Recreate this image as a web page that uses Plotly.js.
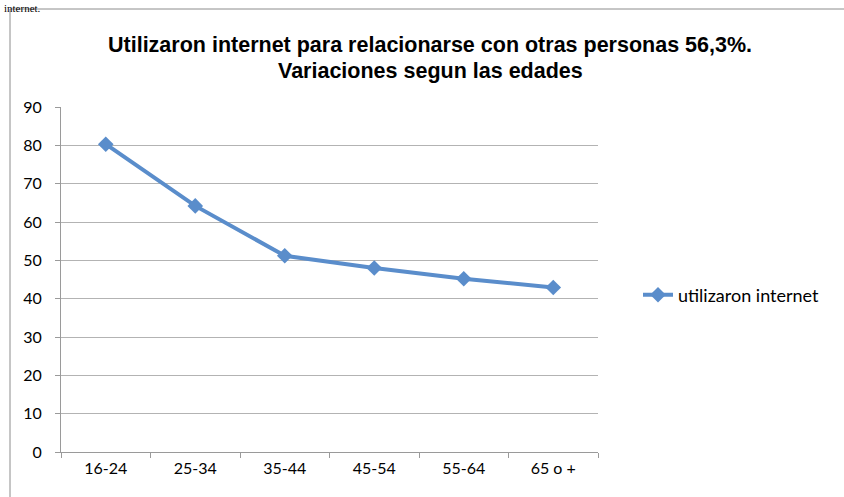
<!DOCTYPE html>
<html><head><meta charset="utf-8">
<script src="https://cdn.plot.ly/plotly-3.0.1.min.js"></script>
<style>html,body{margin:0;padding:0;background:#fff}#chart{width:844px;height:497px}</style>
</head><body><div id="chart"></div>
<script>
const categories = ['16-24','25-34','35-44','45-54','55-64','65 o +'];
const values = [80.3, 64.2, 51.2, 48.0, 45.2, 42.9];
const seriesName = 'utilizaron internet';
const yTicks = [0,10,20,30,40,50,60,70,80,90];
const titleLines = ['Utilizaron internet para relacionarse con otras personas 56,3%.', 'Variaciones segun las edades'];
const topText = 'internet.';

const W = 844, H = 497, L = 61, R = 598, T = 107, B = 452;
const px = x => (x - L) / (R - L);
const py = y => (B - y) / (B - T);

const trace = {
  x: categories, y: values, name: seriesName, type: 'scatter', mode: 'lines+markers',
  line: {color: '#5A8DCB', width: 4},
  marker: {symbol: 'diamond', size: 12, color: '#5A8DCB'}
};
const tickFont = {family: 'Lato, Open Sans, sans-serif', size: 16, color: '#000'};
const titleFont = {family: 'Liberation Sans, Arial', size: 21.5, color: '#000'};
const layout = {
  width: W, height: H,
  margin: {l: L, r: W - R, t: T, b: H - B, pad: 0},
  paper_bgcolor: '#fff', plot_bgcolor: '#fff',
  xaxis: {type: 'category', range: [-0.5, 5.5], showgrid: false, showline: true, linecolor: '#9a9a9a', linewidth: 1,
    ticks: 'outside', tickson: 'boundaries', ticklen: 5, tickcolor: '#9a9a9a',
    tickfont: tickFont, zeroline: false, ticklabelstandoff: 2},
  yaxis: {range: [0, 90], tickvals: yTicks, showgrid: true, gridcolor: '#b3b3b3', gridwidth: 1,
    showline: true, linecolor: '#9a9a9a', ticks: 'outside', ticklen: 5, tickcolor: '#9a9a9a',
    tickfont: tickFont, zeroline: false, ticklabelstandoff: 10},
  showlegend: true,
  legend: {x: px(638), y: py(295), xanchor: 'left', yanchor: 'middle',
    font: {family: 'Lato, Open Sans, sans-serif', size: 18, color: '#000'},
    bgcolor: 'rgba(0,0,0,0)'},
  shapes: [{type: 'rect', xref: 'paper', yref: 'paper', x0: px(10), x1: px(850), y0: py(500), y1: py(9),
    line: {color: '#8c8c8c', width: 1}, fillcolor: 'rgba(0,0,0,0)', layer: 'below'}],
  annotations: [
    {text: topText, xref: 'paper', yref: 'paper', x: px(2), y: py(0), xanchor: 'left', yanchor: 'top',
      showarrow: false, font: {family: 'Liberation Serif, DejaVu Serif, serif', size: 11, color: '#000'}},
    {text: '<b>' + titleLines[0] + '</b>', xref: 'paper', yref: 'paper', x: px(430), y: py(45), xanchor: 'center', yanchor: 'middle',
      showarrow: false, font: titleFont},
    {text: '<b>' + titleLines[1] + '</b>', xref: 'paper', yref: 'paper', x: px(430), y: py(71), xanchor: 'center', yanchor: 'middle',
      showarrow: false, font: titleFont}
  ]
};
Plotly.newPlot('chart', [trace], layout, {displayModeBar: false, staticPlot: true});
</script></body></html>
